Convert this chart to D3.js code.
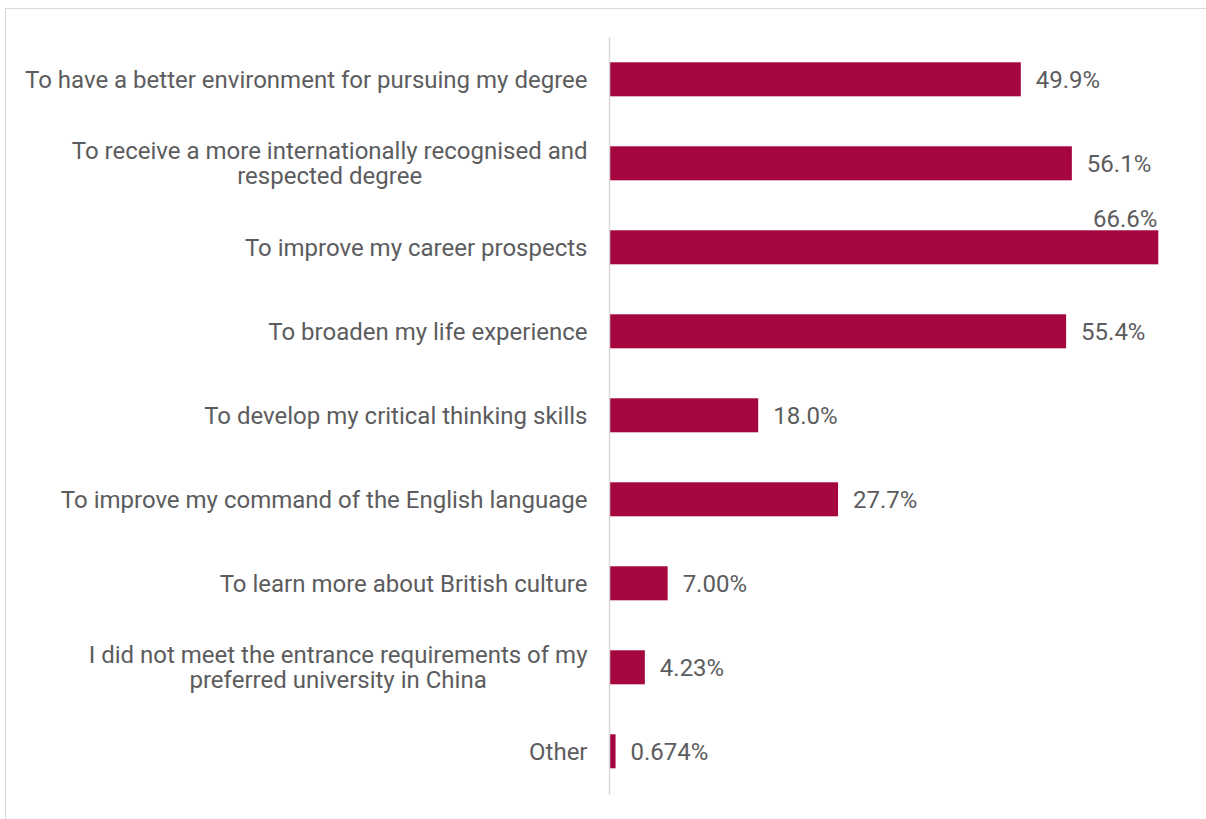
<!DOCTYPE html>
<html>
<head>
<meta charset="utf-8">
<script src="https://cdn.jsdelivr.net/npm/d3@7"></script>
<style>
  html, body { margin: 0; padding: 0; background: #fff; }
  svg { display: block; }
  text { font-family: Roboto, "Liberation Sans", Arial, sans-serif; fill: #5c5c5e; }
</style>
</head>
<body>
<script>
// Reasons for studying in the UK (share of respondents, %)
const categories = [
  "To have a better environment for pursuing my degree",
  "To receive a more internationally recognised and|respected degree",
  "To improve my career prospects",
  "To broaden my life experience",
  "To develop my critical thinking skills",
  "To improve my command of the English language",
  "To learn more about British culture",
  "I did not meet the entrance requirements of my|preferred university in China",
  "Other"
];
const values = [49.9, 56.1, 66.6, 55.4, 18.0, 27.7, 7.00, 4.23, 0.674];

const W = 1206, H = 819;
const axisX = 609.5;
const barColor = "#A5063F";
const fmt = d3.format(".3r");
const fs = 24;
const lineH = 25;

const svg = d3.select("body").append("svg").attr("width", W).attr("height", H);

// chart-area frame (extends past the right and bottom edges)
svg.append("rect")
  .attr("x", 5.5).attr("y", 8.5)
  .attr("width", 1400).attr("height", 1000)
  .attr("fill", "none").attr("stroke", "#d9d9d9").attr("stroke-width", 1);

const x = d3.scaleLinear().domain([0, 66.6]).range([axisX + 0.5, 1158.3]);
const y = d3.scaleBand().domain(categories)
  .range([37.3, 793.3]).paddingInner(0.595).paddingOuter(0.2976);

// category labels: one text per line; wrapped labels are centred on their widest line
const labG = svg.append("g");
categories.forEach(cat => {
  const lines = cat.split("|");
  const cy = y(cat) + y.bandwidth() / 2;
  const g = labG.append("g");
  const texts = lines.map((ln, i) =>
    g.append("text")
      .attr("font-size", fs)
      .attr("x", axisX - 22)
      .attr("y", cy + 8.5 + (i - (lines.length - 1) / 2) * lineH)
      .attr("text-anchor", "end")
      .text(ln));
  if (lines.length > 1) {
    const maxW = d3.max(texts, t => t.node().getComputedTextLength());
    texts.forEach(t => t.attr("text-anchor", "middle").attr("x", axisX - 22 - maxW / 2));
  }
});

// bars
svg.append("g").selectAll("rect").data(values).join("rect")
  .attr("x", x(0))
  .attr("y", (d, i) => y(categories[i]))
  .attr("width", d => x(d) - x(0))
  .attr("height", y.bandwidth())
  .attr("fill", barColor);

// value labels
svg.append("g").selectAll("text").data(values).join("text")
  .attr("font-size", fs)
  .text(d => fmt(d) + "%")
  .each(function (d, i) {
    const t = d3.select(this);
    const w = this.getComputedTextLength();
    const cy = y(categories[i]) + y.bandwidth() / 2;
    if (x(d) + 15 + w > W - 6) {
      // no room to the right: sit above the bar end
      t.attr("text-anchor", "end").attr("x", x(d) - 1).attr("y", y(categories[i]) - 3);
    } else {
      t.attr("text-anchor", "start").attr("x", x(d) + 15).attr("y", cy + 8.5);
    }
  });

// vertical category axis line
svg.append("line")
  .attr("x1", axisX).attr("x2", axisX)
  .attr("y1", 37).attr("y2", 795)
  .attr("stroke", "#d9d9d9").attr("stroke-width", 1.5);
</script>
</body>
</html>
